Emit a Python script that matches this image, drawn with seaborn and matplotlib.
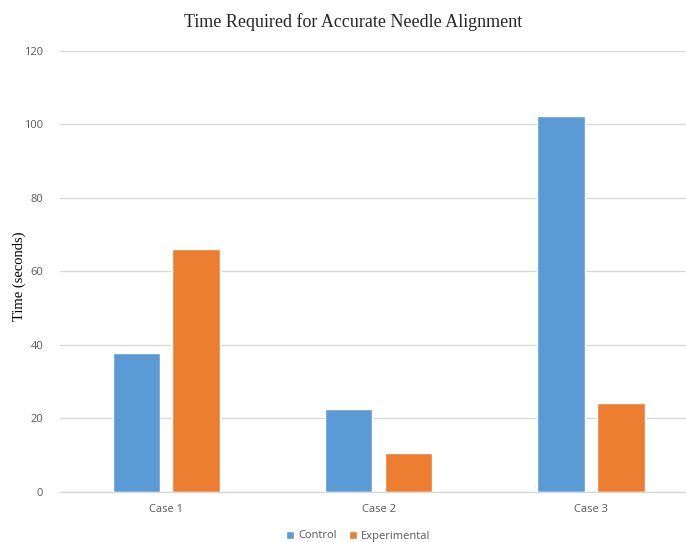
import matplotlib
matplotlib.use("Agg")
import matplotlib.pyplot as plt
import seaborn as sns
import pandas as pd

cases = ["Case 1", "Case 2", "Case 3"]
control = [37.7, 22.5, 102.3]
experimental = [66.1, 10.6, 24.2]
groups = ["Control", "Experimental"]
colors = ["#5B9BD5", "#ED7D31"]

df = pd.DataFrame({
    "case": cases * 2,
    "time": control + experimental,
    "group": [groups[0]] * 3 + [groups[1]] * 3,
})

sns.set_theme(style="white")
tick_color = "#595959"

fig = plt.figure(figsize=(6.86, 5.42), dpi=100)
ax = fig.add_axes([60 / 686, 1 - 491.7 / 542, 1 - 60 / 686, (491.7 - 51) / 542])

sns.barplot(data=df, x="case", y="time", hue="group", palette=colors,
            width=0.564, gap=0.21, ax=ax, legend=True, saturation=1)

ax.set_xlim(-0.5, 2.447)
ax.set_ylim(0, 120)
ax.set_yticks(range(0, 121, 20))
ax.yaxis.grid(True, color="#d9d9d9", linewidth=1)
ax.set_axisbelow(True)
for s in ["top", "right", "left"]:
    ax.spines[s].set_visible(False)
ax.spines["bottom"].set_color("#d9d9d9")
ax.spines["bottom"].set_linewidth(1)
ax.tick_params(axis="both", length=0, colors=tick_color, labelsize=8)
ax.tick_params(axis="y", pad=12)
ax.tick_params(axis="x", pad=9)
for lbl in ax.get_xticklabels() + ax.get_yticklabels():
    lbl.set_family("Open Sans")

ax.set_xlabel("")
ax.set_ylabel("Time (seconds)", family="Liberation Serif", fontsize=10.5,
              color="black")
ax.yaxis.set_label_coords(-34 / 626, 0.489)

fig.suptitle("Time Required for Accurate Needle Alignment",
             family="Liberation Serif", fontsize=13, x=353 / 686,
             y=1 - 22 / 542, va="center")

handles, labels = ax.get_legend_handles_labels()
ax.get_legend().remove()
leg = fig.legend(handles, labels, loc="center", bbox_to_anchor=(0.522, 1 - 536 / 542),
                 ncol=2, frameon=False, handlelength=0.75, handleheight=0.75,
                 handletextpad=0.35, columnspacing=1.1,
                 prop={"family": "Open Sans", "size": 8})
for t in leg.get_texts():
    t.set_color(tick_color)

fig.savefig("out.png", dpi=100)
